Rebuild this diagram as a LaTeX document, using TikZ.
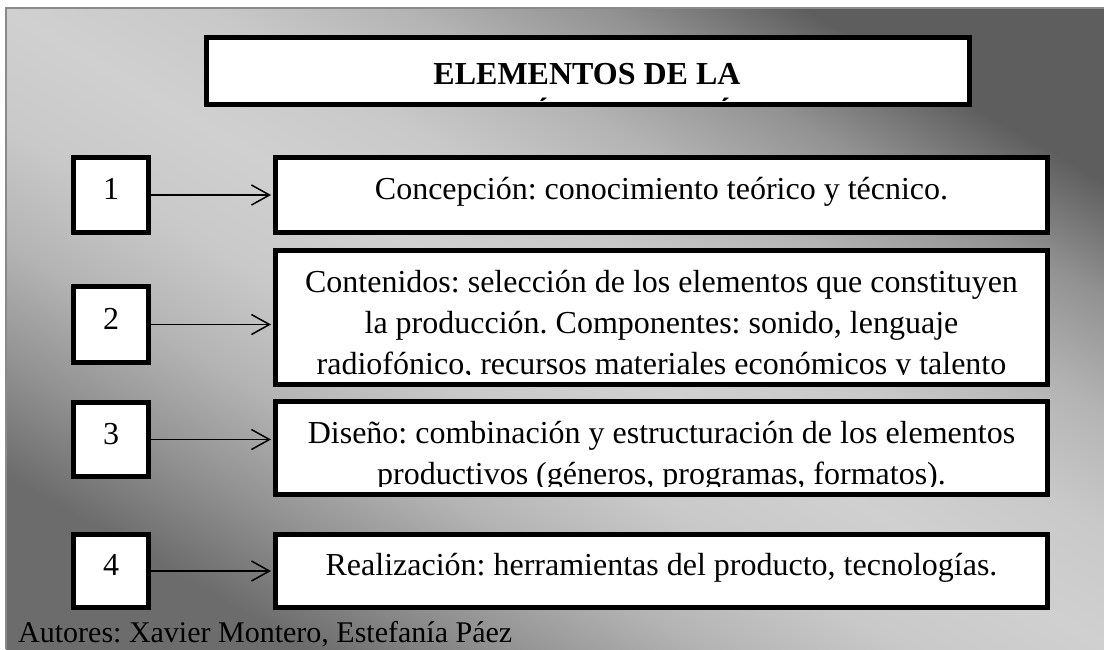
\documentclass[tikz,border=0pt]{standalone}
\usepackage{fontspec}
\setmainfont{Liberation Serif}
\frenchspacing
\usetikzlibrary{arrows.meta}
\definecolor{oscuro}{HTML}{5E5E5E}
\definecolor{oscurob}{HTML}{6C6C6C}
\definecolor{gris1}{HTML}{929292}
\definecolor{gris2}{HTML}{B4B4B4}
\definecolor{gris3}{HTML}{C9C9C9}
\definecolor{claro}{HTML}{D0D0D0}
\definecolor{marco}{HTML}{8A8A8A}
\pgfdeclareverticalshading{fondo}{100bp}{color(0bp)=(oscurob); color(25bp)=(oscurob);
  color(31.25bp)=(gris1); color(37.5bp)=(gris2); color(43.75bp)=(gris3); color(50bp)=(claro);
  color(56.25bp)=(gris3); color(62.5bp)=(gris2); color(68.75bp)=(gris1);
  color(75bp)=(oscuro); color(100bp)=(oscuro)}
\tikzset{
  caja/.style={draw=black, line width=5pt, fill=white, inner sep=0pt},
  numcaja/.style={caja, minimum width=75pt, text height=21pt, text depth=12pt, font=\fontsize{32}{41}\selectfont},
  textcaja/.style={caja, minimum width=772pt, text height=21pt, text depth=12pt, font=\fontsize{32}{41}\selectfont},
  texto/.style={font=\fontsize{32}{41}\selectfont, align=center, inner sep=0pt, anchor=base},
  flecha/.style={line width=1.5pt, shorten >=2pt, -{Straight Barb[length=18pt,width=20pt]}}
}
\begin{document}
\begin{tikzpicture}[x=1pt,y=-1pt]
\useasboundingbox (0,0) rectangle (1104,649);
\shade[shading=fondo, shading angle=-30] (6,8) rectangle (1104,649);
\draw[line width=1.5pt, marco] (6,649) -- (6,8) -- (1104,8);

\node[caja, minimum width=763pt, minimum height=67pt] (titulo) at (588,71) {};
\begin{scope}
  \clip (titulo.north west) rectangle ([yshift=6.5pt]titulo.south east);
  % anchor=base sits on the last line
  \node[texto, font=\fontsize{32}{41}\selectfont\bfseries] (titulotxt) at (587,125) {ELEMENTOS DE LA\\PRODUCCIÓN RADIOFÓNICA};
\end{scope}

\node[numcaja, minimum height=75pt] (n1) at (111,195) {1};
\node[textcaja, minimum height=75pt] (t1) at (661.5,195) {Concepción: conocimiento teórico y técnico.};
\draw[flecha] (n1) -- (t1);

\node[numcaja, minimum height=76pt] (n2) at (111,324.5) {2};
\node[caja, minimum width=772pt, minimum height=134pt] (t2) at (661.5,317.5) {};
\begin{scope}
  \clip (t2.north west) rectangle ([yshift=12.5pt]t2.south east);
  \node[texto] (t2txt) at (661.5,374) {Contenidos: selección de los elementos que constituyen\\la producción. Componentes: sonido, lenguaje\\radiofónico, recursos materiales económicos y talento};
\end{scope}
\draw[flecha] (n2.east) -- (n2.east -| t2.west);

\node[numcaja, minimum height=74pt] (n3) at (111,439.5) {3};
\node[caja, minimum width=772pt, minimum height=93pt] (t3) at (661.5,448) {};
\begin{scope}
  \clip (t3.north west) rectangle ([yshift=10.5pt]t3.south east);
  \node[texto] (t3txt) at (661.5,484) {Diseño: combinación y estructuración de los elementos\\productivos (géneros, programas, formatos).};
\end{scope}
\draw[flecha] (n3.east) -- (n3.east -| t3.west);

\node[numcaja, minimum height=73pt] (n4) at (111,571) {4};
\node[textcaja, minimum height=73pt] (t4) at (661.5,571) {Realización: herramientas del producto, tecnologías.};
\draw[flecha] (n4) -- (t4);

\node[texto, anchor=base west, font=\fontsize{30}{36}\selectfont] (autores) at (18,642) {Autores: Xavier Montero, Estefanía Páez};
\end{tikzpicture}
\end{document}
